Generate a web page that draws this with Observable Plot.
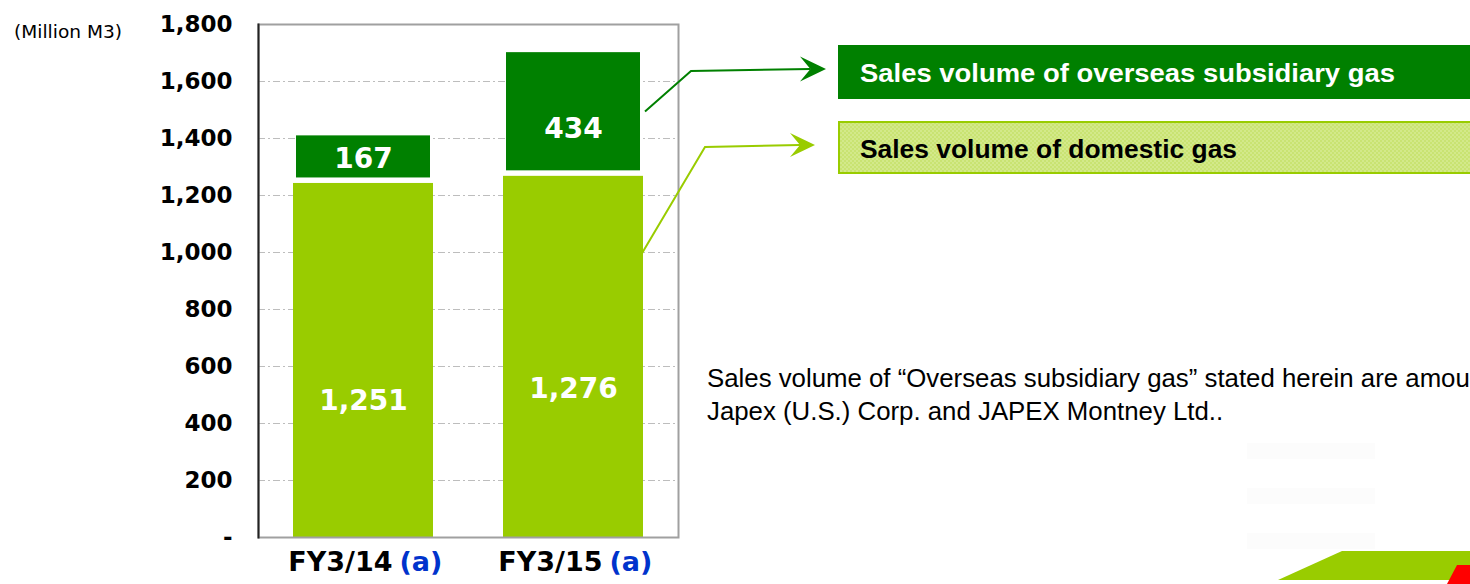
<!DOCTYPE html>
<html>
<head>
<meta charset="utf-8">
<script src="https://cdn.jsdelivr.net/npm/d3@7"></script>
<script src="https://cdn.jsdelivr.net/npm/@observablehq/plot@0.6"></script>
<style>
  html, body { margin: 0; padding: 0; background: #fff; }
  #wrap { position: relative; width: 1470px; height: 584px; overflow: hidden; background: #fff; }
  #wrap > svg { position: absolute; left: 0; top: 0; }
</style>
</head>
<body>
<div id="wrap"></div>
<script>
// ---- data ----
const years = ["FY3/14", "FY3/15"];
const yearNote = ["(a)", "(a)"];
const domestic = [1251, 1276];
const overseas = [167, 434];
const seriesNames = ["Sales volume of overseas subsidiary gas", "Sales volume of domestic gas"];
const yTicks = [0, 200, 400, 600, 800, 1000, 1200, 1400, 1600, 1800];
const unitLabel = "(Million M3)";
const footnote = [
  "Sales volume of \u201cOverseas subsidiary gas\u201d stated herein are amounts sold by",
  "Japex (U.S.) Corp. and JAPEX Montney Ltd.."
];

// ---- styles ----
const LIGHT = "#99CC00";
const DARK = "#008000";
const FONT = "Verdana, 'DejaVu Sans', sans-serif";
// label vertical nudges (px) per year, per series
const labelDy = {
  "FY3/14": {domestic: 42, overseas: 2},
  "FY3/15": {domestic: 33, overseas: 17}
};

const dom = years.map((y, i) => ({year: y, value: domestic[i], base: 0}));
const ovs = years.map((y, i) => ({year: y, value: overseas[i], base: domestic[i]}));
const fmt = d3.format(",");

const labelMarks = [];
years.forEach((yr, i) => {
  labelMarks.push(Plot.text([dom[i]], {
    x: "year", y: d => d.value / 2, text: d => fmt(d.value),
    fill: "white", fontSize: 28, fontWeight: "bold", dy: labelDy[yr].domestic
  }));
  labelMarks.push(Plot.text([ovs[i]], {
    x: "year", y: d => d.base + d.value / 2, text: d => fmt(d.value),
    fill: "white", fontSize: 28, fontWeight: "bold", dy: labelDy[yr].overseas
  }));
});

const chart = Plot.plot({
  width: 1470,
  height: 584,
  marginLeft: 258,
  marginRight: 792,
  marginTop: 24,
  marginBottom: 47,
  style: {fontFamily: FONT, background: "transparent", overflow: "visible"},
  x: {domain: years, paddingInner: 1/3, paddingOuter: 1/6, axis: null, label: null},
  y: {domain: [0, 1800], axis: null, label: null},
  marks: [
    Plot.gridY(yTicks, {stroke: "#bdbdbd", strokeOpacity: 1, strokeDasharray: "7,3,2,3"}),
    Plot.barY(dom, {x: "year", y1: "base", y2: d => d.base + d.value, fill: LIGHT, insetTop: 2.5}),
    Plot.barY(ovs, {x: "year", y1: "base", y2: d => d.base + d.value, fill: DARK, insetLeft: 3, insetRight: 3, insetBottom: 3, insetTop: 2.5}),
    Plot.frame({stroke: "#a0a0a0", strokeWidth: 2}),
    Plot.frame({anchor: "left", stroke: "#222", strokeWidth: 2}),
    Plot.axisY(yTicks, {
      tickSize: 0, tickPadding: 26, fontSize: 23, fontWeight: "bold", fill: "#000", label: null,
      tickFormat: d => d === 0 ? "-" : fmt(d)
    }),
    ...labelMarks,
    Plot.text(years, {x: d => d, frameAnchor: "bottom", text: d => d, textAnchor: "end", dx: 29, dy: 33, fontSize: 27, fontWeight: "bold", fill: "#000"}),
    Plot.text(years.map((y, i) => ({y, n: yearNote[i]})), {x: "y", frameAnchor: "bottom", text: "n", textAnchor: "start", dx: 36, dy: 33, fontSize: 27, fontWeight: "bold", fill: "#0033CC"})
  ]
});

const wrap = document.getElementById("wrap");
wrap.appendChild(chart);

// ---- annotation overlay ----
const xs = chart.scale("x"), ys = chart.scale("y");
const bw = xs.bandwidth;
const svg = d3.select(wrap).append("svg")
  .attr("width", 1470).attr("height", 584)
  .style("font-family", FONT);

const defs = svg.append("defs");
const pat = defs.append("pattern").attr("id", "hatch").attr("width", 4).attr("height", 4).attr("patternUnits", "userSpaceOnUse");
pat.append("rect").attr("width", 4).attr("height", 4).attr("fill", "#d3e98a");
pat.append("rect").attr("width", 2).attr("height", 2).attr("fill", "#c9e372");
pat.append("rect").attr("x", 2).attr("y", 2).attr("width", 2).attr("height", 2).attr("fill", "#c9e372");

// unit label
svg.append("text").attr("x", 14).attr("y", 38).attr("font-size", 18.5).attr("fill", "#000")
  .attr("font-family", "Tahoma, 'DejaVu Sans', sans-serif").attr("textLength", 108).attr("lengthAdjust", "spacingAndGlyphs").text(unitLabel);

// legend boxes
const LEGFONT = "Tahoma, 'Liberation Sans', Arial, sans-serif";
svg.append("rect").attr("x", 838).attr("y", 45).attr("width", 700).attr("height", 54).attr("fill", DARK);
svg.append("text").attr("x", 860).attr("y", 82).attr("font-size", 25).attr("font-weight", "bold").attr("fill", "#fff")
  .attr("font-family", LEGFONT).attr("textLength", 535).attr("lengthAdjust", "spacingAndGlyphs").text(seriesNames[0]);
svg.append("rect").attr("x", 839).attr("y", 122).attr("width", 700).attr("height", 51).attr("fill", "url(#hatch)").attr("stroke", LIGHT).attr("stroke-width", 2);
svg.append("text").attr("x", 860).attr("y", 158).attr("font-size", 25).attr("font-weight", "bold").attr("fill", "#000")
  .attr("font-family", LEGFONT).attr("textLength", 377).attr("lengthAdjust", "spacingAndGlyphs").text(seriesNames[1]);

// arrows from last bar to legend
const x2 = xs.apply(years[1]) + bw;
function arrow(start, knee, tip, color, len, half) {
  const notch = [tip[0] - len * 0.6, tip[1]];
  svg.append("polyline").attr("points", [start, knee, notch].map(p => p.join(",")).join(" "))
    .attr("fill", "none").attr("stroke", color).attr("stroke-width", 2);
  svg.append("polygon").attr("points", [tip, [tip[0] - len, tip[1] - half], notch, [tip[0] - len, tip[1] + half]].map(p => p.join(",")).join(" "))
    .attr("fill", color);
}
arrow([x2 + 2, ys.apply(domestic[1] + overseas[1] / 2)], [691, 71], [826, 69], DARK, 26, 12.5);
arrow([x2 - 1, ys.apply(domestic[1] * 0.78)], [705, 147], [815, 145], LIGHT, 25, 12);

// footnote
const fn = svg.append("text").attr("font-family", "'Liberation Sans', Arial, sans-serif").attr("font-size", 25.8).attr("fill", "#000");
footnote.forEach((t, i) => fn.append("tspan").attr("x", 707).attr("y", 387 + i * 33).text(t));

// logo fragment bottom-right
[443, 488, 533].forEach(y => svg.append("rect").attr("x", 1247).attr("y", y).attr("width", 128).attr("height", 16).attr("fill", "#fcfcfc"));
svg.append("polygon").attr("points", "1278,580 1342,551 1470,551 1470,580").attr("fill", LIGHT);
svg.append("polygon").attr("points", "1447,584 1457,565 1470,565 1470,584").attr("fill", "#ff0000");
</script>
</body>
</html>
